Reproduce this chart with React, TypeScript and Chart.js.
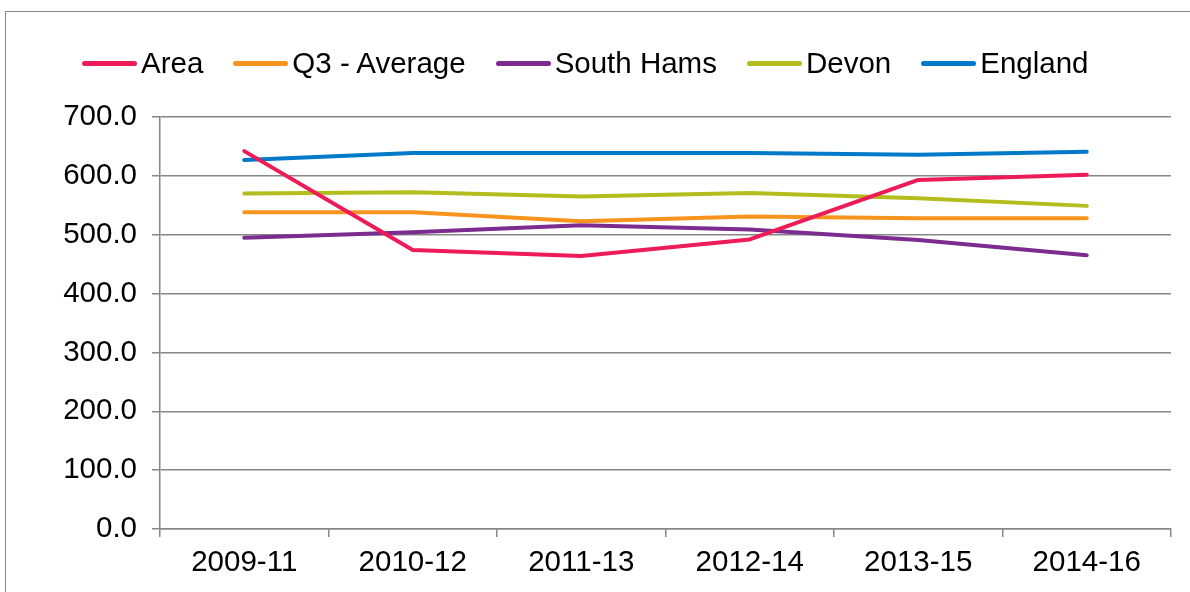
import React, { useEffect, useRef } from "react";
import { Chart, registerables } from "chart.js";

Chart.register(...registerables);

const categories = ["2009-11", "2010-12", "2011-13", "2012-14", "2013-15", "2014-16"];
const areaValues = [642, 474, 464, 492, 593, 602];
const q3Values = [538, 538, 523, 531, 528, 528];
const southHamsValues = [495, 504, 516, 509, 491, 465];
const devonValues = [570, 572, 565, 571, 562, 549];
const englandValues = [627, 639, 639, 639, 636, 641];

const seriesNames = ["Area", "Q3 - Average", "South Hams", "Devon", "England"];
const seriesColors = ["#ED1B58", "#F7941D", "#7B2C8E", "#B3BE1E", "#0079C8"];
const seriesValues = [areaValues, q3Values, southHamsValues, devonValues, englandValues];

const FONT = "'Liberation Sans', Arial, sans-serif";
const FONT_SIZE = 29.5;
const GRID = "#878787";

export default function App() {
  const ref = useRef<HTMLCanvasElement | null>(null);

  useEffect(() => {
    if (!ref.current) return;
    const chart = new Chart(ref.current, {
      type: "line",
      data: {
        labels: categories,
        datasets: seriesNames.map((name, i) => ({
          label: name,
          data: seriesValues[i],
          borderColor: seriesColors[i],
          backgroundColor: seriesColors[i],
          borderWidth: 4,
          borderCapStyle: "round" as const,
          borderJoinStyle: "round" as const,
          pointRadius: 0,
          pointHoverRadius: 0,
          tension: 0,
          fill: false,
        })),
      },
      options: {
        responsive: false,
        animation: false,
        events: [],
        layout: { padding: { top: 117, right: 19, left: 0, bottom: 0 } },
        plugins: {
          legend: { display: false },
          tooltip: { enabled: false },
        },
        scales: {
          x: {
            type: "category",
            offset: true,
            grid: {
              offset: true,
              drawOnChartArea: false,
              drawTicks: true,
              tickLength: 8,
              color: GRID,
              lineWidth: 1.5,
            },
            border: { color: GRID, width: 1.5 },
            ticks: {
              color: "#000",
              font: { family: FONT, size: FONT_SIZE },
              padding: 8,
              maxRotation: 0,
              autoSkip: false,
            },
            afterFit: (scale: any) => {
              scale.height = 63;
            },
          },
          y: {
            min: 0,
            max: 700,
            grid: {
              color: GRID,
              lineWidth: 1.5,
              drawTicks: true,
              tickLength: 8,
            },
            border: { color: GRID, width: 1.5 },
            ticks: {
              stepSize: 100,
              color: "#000",
              font: { family: FONT, size: FONT_SIZE },
              padding: 15,
              callback: (v: any) => Number(v).toFixed(1),
            },
            afterFit: (scale: any) => {
              scale.width = 160;
            },
          },
        },
      },
    });
    return () => chart.destroy();
  }, []);

  return (
    <div style={{ position: "absolute", left: 0, top: 0, width: 1190, height: 592, overflow: "hidden", background: "#fff" }}>
      <div
        style={{
          position: "absolute",
          left: 5,
          top: 11,
          width: 1210,
          height: 620,
          border: `1.5px solid ${GRID}`,
          boxSizing: "border-box",
        }}
      />
      <canvas ref={ref} width={1190} height={592} style={{ position: "absolute", left: 0, top: 0 }} />
      <div
        style={{
          position: "absolute",
          left: 82,
          top: 46,
          display: "flex",
          alignItems: "center",
          gap: 30,
          fontFamily: FONT,
          fontSize: FONT_SIZE,
          lineHeight: "34px",
          color: "#000",
          whiteSpace: "nowrap",
        }}
      >
        {seriesNames.map((name, i) => (
          <div key={name} style={{ display: "flex", alignItems: "center" }}>
            <span
              style={{
                display: "inline-block",
                width: 55,
                height: 5,
                borderRadius: 3,
                background: seriesColors[i],
                marginRight: 4,
              }}
            />
            <span>{name}</span>
          </div>
        ))}
      </div>
    </div>
  );
}
